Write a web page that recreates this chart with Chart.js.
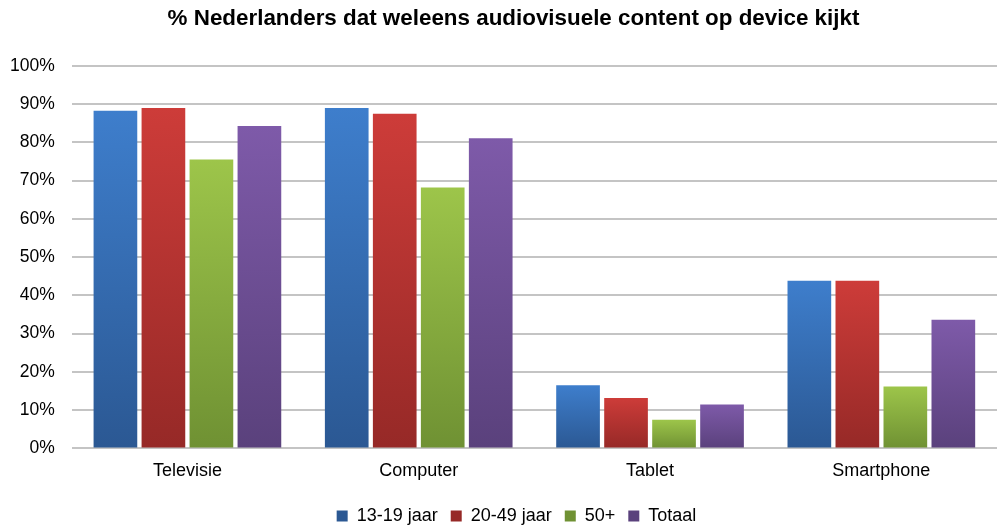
<!DOCTYPE html>
<html>
<head>
<meta charset="utf-8">
<script src="https://cdn.jsdelivr.net/npm/chart.js@4/dist/chart.umd.min.js"></script>
<style>
  html, body { margin: 0; padding: 0; background: #fff; }
  #wrap { width: 997px; height: 526px; }
</style>
</head>
<body>
<div id="wrap"><canvas id="myChart" width="997" height="526"></canvas></div>
<script>
const categories = ['Televisie', 'Computer', 'Tablet', 'Smartphone'];
const seriesNames = ['13-19 jaar', '20-49 jaar', '50+', 'Totaal'];
const teens = [88.3, 89.0, 16.5, 43.8];
const adults = [89.0, 87.5, 13.2, 43.8];
const seniors = [75.5, 68.2, 7.5, 16.2];
const total = [84.3, 81.1, 11.5, 33.6];
const yTicks = [0, 10, 20, 30, 40, 50, 60, 70, 80, 90, 100];

const FONT = 'Liberation Sans, Arial, sans-serif';

// top / bottom colour of each bar gradient
const colours = [
    ['#3e7ecc', '#2b5893'],
    ['#cd3c39', '#962927'],
    ['#9dc54a', '#6f9133'],
    ['#7e5aa9', '#5a417c'],
];

function barGradient(i) {
    return function (ctx) {
        const chart = ctx.chart;
        const yScale = chart.scales.y;
        if (!chart.chartArea || !yScale || ctx.parsed === undefined) return colours[i][0];
        const top = yScale.getPixelForValue(ctx.parsed.y);
        const bottom = yScale.getPixelForValue(0);
        if (!isFinite(top) || bottom - top < 1) return colours[i][0];
        const g = chart.ctx.createLinearGradient(0, top, 0, bottom);
        g.addColorStop(0, colours[i][0]);
        g.addColorStop(1, colours[i][1]);
        return g;
    };
}

// nudge title and legend to where they sit in the original
const nudge = {
    id: 'nudge',
    afterLayout(chart) {
        if (chart.legend) {
            chart.legend.top += 9;
            chart.legend.bottom += 9;
            chart.legend.left += 18;
            chart.legend.right += 18;
        }
        if (chart.titleBlock) {
            chart.titleBlock.left += 15;
            chart.titleBlock.right += 15;
        }
    }
};

const seriesData = [teens, adults, seniors, total];
const datasets = seriesData.map((d, i) => ({
    label: seriesNames[i],
    data: d,
    backgroundColor: barGradient(i),
    borderWidth: 0,
    categoryPercentage: 0.83,
    barPercentage: 0.91,
}));

const ctx = document.getElementById('myChart').getContext('2d');
const chart = new Chart(ctx, {
    type: 'bar',
    data: { labels: categories, datasets: datasets },
    plugins: [nudge],
    options: {
        responsive: false,
        animation: false,
        layout: { padding: 0 },
        plugins: {
            title: {
                display: true,
                text: '% Nederlanders dat weleens audiovisuele content op device kijkt',
                color: '#000',
                font: { family: FONT, size: 22.4, weight: 'bold' },
                padding: { top: 5, bottom: 34 },
            },
            legend: {
                position: 'bottom',
                labels: {
                    color: '#000',
                    font: { family: FONT, size: 18 },
                    boxWidth: 11,
                    boxHeight: 11,
                    padding: 13,
                    generateLabels(chart) {
                        return seriesNames.map((n, i) => ({
                            text: n,
                            fillStyle: colours[i][1],
                            strokeStyle: colours[i][1],
                            lineWidth: 0,
                            datasetIndex: i,
                            hidden: false,
                        }));
                    },
                },
            },
            tooltip: { enabled: false },
        },
        scales: {
            x: {
                afterFit(scale) { scale.height -= 9; },
                grid: { display: false, drawTicks: false },
                border: { display: false },
                ticks: {
                    color: '#000',
                    padding: 12,
                    font: { family: FONT, size: 18 },
                },
            },
            y: {
                min: 0,
                max: 100,
                afterFit(scale) { scale.width -= 7; },
                afterBuildTicks(axis) {
                    axis.ticks = yTicks.map(v => ({ value: v }));
                },
                grid: { color: '#c4c4c4', lineWidth: 2, drawTicks: false },
                border: { display: false },
                ticks: {
                    color: '#000',
                    padding: 17,
                    font: { family: FONT, size: 17.5 },
                    callback: v => v + '%',
                },
            },
        },
    },
});
</script>
</body>
</html>
